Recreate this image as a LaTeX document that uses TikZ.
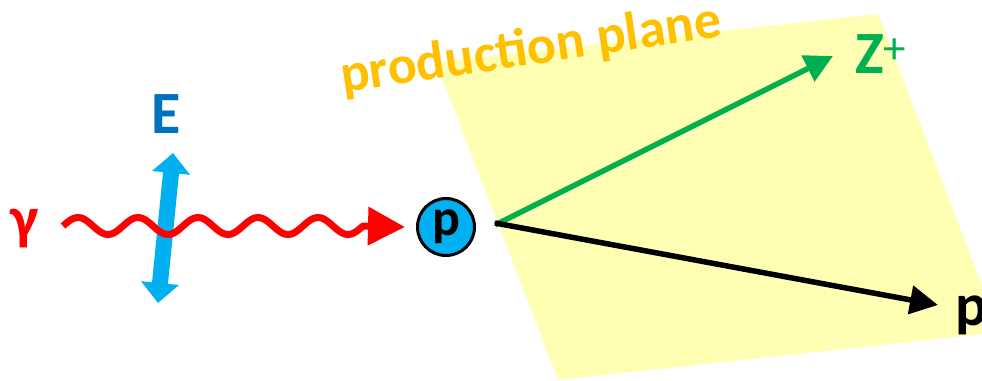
\documentclass[tikz,border=0pt]{standalone}
\usepackage{fontspec}
\setmainfont{Carlito}
\usetikzlibrary{arrows.meta}
\definecolor{photonred}{HTML}{FF0000}
\definecolor{fieldblue}{HTML}{00B0F0}
\definecolor{labelblue}{HTML}{0070C0}
\definecolor{planeyellow}{HTML}{FFFFB4}
\definecolor{planelabel}{HTML}{FFC000}
\definecolor{zgreen}{HTML}{00B050}
\begin{document}
\begin{tikzpicture}[x=1pt,y=-1pt,
  biglabel/.style={font=\fontsize{60}{60}\selectfont\bfseries, inner sep=0pt},
  photon/.style={draw=photonred, line width=7pt, line join=round,
    -{Triangle[length=37pt,width=37pt]}},
  efield/.style={draw=fieldblue, line width=16pt,
    {Triangle[length=20pt,width=37pt]}-{Triangle[length=20pt,width=37pt]}},
  track/.style={line width=5.5pt, -{Triangle[length=28pt,width=28pt]}},
  proton/.style={circle, draw=black, line width=3pt, fill=fieldblue,
    minimum size=57pt, inner sep=0pt,
    font=\fontsize{52}{52}\selectfont\bfseries}]
  \clip (0,0) rectangle (982,380);

  % production plane (parallelogram)
  \fill[planeyellow] (436,62) -- (878,14) -- (1000,332) -- (558,380) -- cycle;
  \node[font=\fontsize{54}{54}\selectfont\bfseries, text=planelabel,
        inner sep=0pt, anchor=base west, rotate=8.5] (plane) at (343,93)
        {production plane};

  % target proton
  \node[proton] (pp) at (446,227) {p};

  % polarisation vector E
  \coordinate (ebot) at (158,303);
  \coordinate (etop) at (173,153);
  \draw[efield] (ebot) -- (etop);
  \node[biglabel, text=labelblue, anchor=base] (elabel) at (166,133) {E};

  % incoming photon
  \node[biglabel, text=photonred, anchor=base west] (gamma) at (10,238) {γ};
  \coordinate (wstart) at (63,226);
  \draw[photon] (wstart)
    plot[domain=0:300, samples=151] ({63+\x},{226-8.5*sin(6*\x)})
    -- ([xshift=-11pt]pp.west);

  % outgoing particles
  \coordinate (vtx) at (495,225);
  \coordinate (ztip) at (833,56);
  \coordinate (ptip) at (938,305);
  \draw[track, zgreen] (vtx) -- (ztip);
  \draw[track, black] ([yshift=2pt]vtx) -- (ptip);
  \node[biglabel, text=zgreen, anchor=base west] (zlabel) at (855,73)
    {Z\raisebox{10pt}{\fontsize{45}{45}\selectfont\mdseries +}};
  \node[biglabel, anchor=base west] (plabel) at (955,325) {p};
\end{tikzpicture}
\end{document}
